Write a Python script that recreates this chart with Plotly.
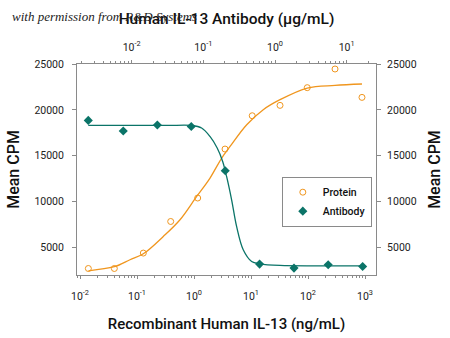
import plotly.graph_objects as go

# ---- data ----
protein_conc = [0.014, 0.040, 0.129, 0.39, 1.16, 3.5, 10.5, 32.3, 97, 298, 885]  # ng/mL
protein_cpm = [2710, 2710, 4390, 7835, 10390, 15730, 19360, 20490, 22420, 24455, 21360]

antibody_conc = [0.00248, 0.00763, 0.0228, 0.0678, 0.202, 0.609, 1.84, 5.52, 16.7]  # ug/mL
antibody_cpm = [18850, 17690, 18350, 18195, 13365, 3190, 2754, 3115, 2930]

protein_fit_conc = [0.0140, 0.0400, 0.0753, 0.129, 0.289, 0.568, 1.114, 1.91, 3.06,
                    4.29, 8.41, 16.4, 32.3, 97.3, 298, 885]
protein_fit_cpm = [2460, 2900, 3660, 4310, 6200, 8020, 10560, 12570, 14750,
                   16010, 18380, 20020, 21110, 22380, 22670, 22820]

antibody_fit_conc = [0.00248, 0.01, 0.0316, 0.0687, 0.0946, 0.1236, 0.156, 0.186, 0.211,
                     0.248, 0.291, 0.360, 0.472, 0.615, 1.17, 3.98, 16.7]
antibody_fit_cpm = [18300, 18300, 18300, 18300, 18020, 17100, 15840, 14380, 12740,
                    10200, 7290, 4750, 3470, 3220, 3040, 3000, 3000]

bottom_tickvals = [0.01, 0.1, 1, 10, 100, 1000]
bottom_ticktext = ["10<sup>-2</sup>", "10<sup>-1</sup>", "10<sup>0</sup>",
                   "10<sup>1</sup>", "10<sup>2</sup>", "10<sup>3</sup>"]
top_tickvals = [0.01, 0.1, 1, 10]
top_ticktext = ["10<sup>-2</sup>", "10<sup>-1</sup>", "10<sup>0</sup>", "10<sup>1</sup>"]
y_tickvals = [5000, 10000, 15000, 20000, 25000]
y_ticktext = ["5000", "10000", "15000", "20000", "25000"]

ORANGE = "#F0961E"
TEAL = "#0B7468"
AXIS = "#8a8a8a"
FONT = "Roboto, sans-serif"

fig = go.Figure()

fig.add_trace(go.Scatter(x=protein_fit_conc, y=protein_fit_cpm, mode="lines",
                         line=dict(color=ORANGE, width=1.3, shape="spline"),
                         showlegend=False, hoverinfo="skip"))
fig.add_trace(go.Scatter(x=antibody_fit_conc, y=antibody_fit_cpm, mode="lines",
                         xaxis="x2", line=dict(color=TEAL, width=1.3, shape="spline"),
                         showlegend=False, hoverinfo="skip"))
fig.add_trace(go.Scatter(x=protein_conc, y=protein_cpm, mode="markers", name="Protein",
                         marker=dict(symbol="circle-open", size=6, color=ORANGE,
                                     line=dict(width=1, color=ORANGE))))
fig.add_trace(go.Scatter(x=antibody_conc, y=antibody_cpm, mode="markers", name="Antibody",
                         xaxis="x2",
                         marker=dict(symbol="diamond", size=7, color=TEAL)))
# invisible trace to activate the right-hand y axis
fig.add_trace(go.Scatter(x=[protein_conc[0]], y=[protein_cpm[0]], yaxis="y2",
                         mode="markers", marker=dict(opacity=0), showlegend=False,
                         hoverinfo="skip"))

axis_common = dict(showline=True, linecolor=AXIS, linewidth=1, ticks="outside",
                   tickcolor=AXIS, showgrid=False, zeroline=False, automargin=False,
                   tickfont=dict(family=FONT, size=10.5, color="#222"))
title_font = dict(family=FONT, size=16, color="#111", weight=500)

fig.update_layout(
    width=450, height=338,
    margin=dict(l=77, r=74, t=64, b=63, autoexpand=False),
    paper_bgcolor="white", plot_bgcolor="white",
    font=dict(family=FONT, color="#111"),
    xaxis=dict(type="log", range=[-2.053, 3.193], tickvals=bottom_tickvals,
               ticktext=bottom_ticktext, ticklen=3, ticklabelstandoff=8,
               minor=dict(ticks="outside", ticklen=2, dtick="D1", tickcolor=AXIS),
               title=dict(text="Recombinant Human IL-13 (ng/mL)",
                          font=dict(family=FONT, size=15, color="#111", weight=500),
                          standoff=16),
               **axis_common),
    xaxis2=dict(type="log", overlaying="x", side="top", anchor="y",
                range=[-2.763, 1.409], tickvals=top_tickvals, ticktext=top_ticktext,
                ticklen=3, ticklabelstandoff=5,
                minor=dict(ticks="outside", ticklen=2, dtick="D1", tickcolor=AXIS),
                title=dict(text="Human IL-13 Antibody (\u03bcg/mL)",
                           font=dict(family=FONT, size=15.5, color="#111", weight=500),
                           standoff=10),
                **axis_common),
    yaxis=dict(range=[2000, 25000], tickvals=y_tickvals, ticktext=y_ticktext,
               ticklen=4, ticklabelstandoff=6,
               title=dict(text="Mean CPM", font=title_font, standoff=10),
               **axis_common),
    yaxis2=dict(range=[2000, 25000], tickvals=y_tickvals, ticktext=y_ticktext,
                overlaying="y", side="right", anchor="x", ticklen=4, ticklabelstandoff=4,
                title=dict(text="Mean CPM", font=title_font, standoff=13),
                **axis_common),
    legend=dict(x=0.685, y=0.466, xanchor="left", yanchor="top",
                bordercolor=AXIS, borderwidth=1, bgcolor="white",
                font=dict(family=FONT, size=10.5, color="#111", weight=500),
                tracegroupgap=2),
    annotations=[dict(text="<i>with permission from R&amp;D Systems</i>",
                      xref="paper", yref="paper", x=-0.224, y=1.225,
                      xanchor="left", yanchor="middle", showarrow=False,
                      font=dict(family="Liberation Serif, serif", size=13, color="#222"))],
)

fig.write_html("out.html")
